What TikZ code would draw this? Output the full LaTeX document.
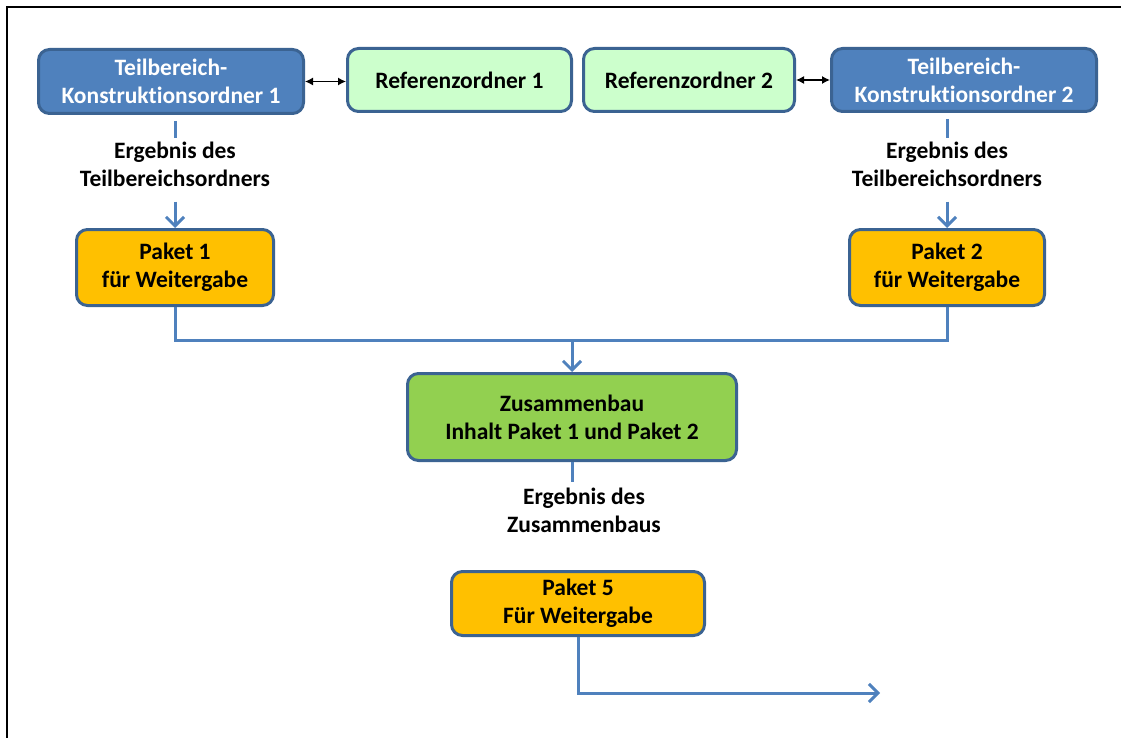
\documentclass[tikz,border=0pt]{standalone}
\usepackage{fontspec}
\setmainfont{Carlito}[Ligatures=NoCommon]
\usetikzlibrary{arrows.meta}
\definecolor{tkblue}{HTML}{4F81BD}
\definecolor{bordblue}{HTML}{3B6392}
\definecolor{refgreen}{HTML}{CCFFCC}
\definecolor{paketorange}{HTML}{FFC000}
\definecolor{zusgreen}{HTML}{92D050}
\definecolor{linkblue}{HTML}{4F81BD}
\begin{document}
\begin{tikzpicture}[x=1pt,y=-1pt,
  box/.style={draw=bordblue, line width=3pt, rounded corners=11pt, align=center,
    font=\fontsize{23.5}{28}\selectfont\bfseries, inner sep=0pt},
  tkbox/.style={box, fill=tkblue, text=white, minimum width=265pt, minimum height=64pt},
  refbox/.style={box, fill=refgreen, minimum height=63pt},
  paketbox/.style={box, fill=paketorange},
  zusbox/.style={box, fill=zusgreen},
  lbl/.style={align=center, font=\fontsize{23.5}{28}\selectfont\bfseries, inner sep=0pt},
  conn/.style={draw=linkblue, line width=3pt},
  arr/.style={-{Straight Barb[length=9pt,width=18pt]}},
  dbl/.style={line width=1.3pt, {Latex[length=8pt,width=8pt]}-{Latex[length=8pt,width=8pt]}}
]
\useasboundingbox (0,0) rectangle (1121,738);
\draw[line width=2pt] (7,738) -- (7,7) -- (1121,7);

\node[tkbox] (TK1) at (171,81.5) {Teilbereich-\\Konstruktionsordner 1};
\node[refbox, minimum width=224pt] (R1) at (459.5,80) {Referenzordner 1};
\node[refbox, minimum width=211pt] (R2) at (689,80) {Referenzordner 2};
\node[tkbox, minimum height=63pt] (TK2) at (964,80) {Teilbereich-\\Konstruktionsordner 2};

\node[paketbox, minimum width=197pt, minimum height=76pt] (P1) at (175,267.5) {Paket 1\\für Weitergabe};
\node[paketbox, minimum width=195pt, minimum height=76pt] (P2) at (947,267.5) {Paket 2\\für Weitergabe};
\node[zusbox, minimum width=329pt, minimum height=87pt] (Z) at (572,417) {Zusammenbau\\Inhalt Paket 1 und Paket 2};
\node[paketbox, minimum width=253pt, minimum height=64pt] (P5) at (578,603.5) {Paket 5\\Für Weitergabe};

\node[lbl] (L1) at (175,164) {Ergebnis des\\Teilbereichsordners};
\node[lbl] (L2) at (947,164) {Ergebnis des\\Teilbereichsordners};
\node[lbl] (L3) at (584,510.5) {Ergebnis des\\Zusammenbaus};

\coordinate (J) at (572,340);
\coordinate (OUT) at (880,693);

\draw[dbl] (TK1.east) -- (TK1.east -| R1.west);
\draw[dbl] (R2.east) -- (R2.east -| TK2.west);

\draw[conn, shorten <=6pt, shorten >=3pt] (TK1.south -| L1.north) -- (L1.north);
\draw[conn, arr, shorten <=15pt] (L1.south) -- (P1.north);
\draw[conn, shorten <=6pt, shorten >=3pt] (TK2.south -| L2.north) -- (L2.north);
\draw[conn, arr, shorten <=15pt] (L2.south) -- (P2.north);

\draw[conn] (P1.south) -- (P1.south |- J) -- (P2.south |- J) -- (P2.south);
\draw[conn, arr] (J) -- (Z.north);

\draw[conn, shorten >=6pt] (Z.south) -- (Z.south |- L3.north);
\draw[conn, arr] (P5.south) |- (OUT);
\end{tikzpicture}
\end{document}
